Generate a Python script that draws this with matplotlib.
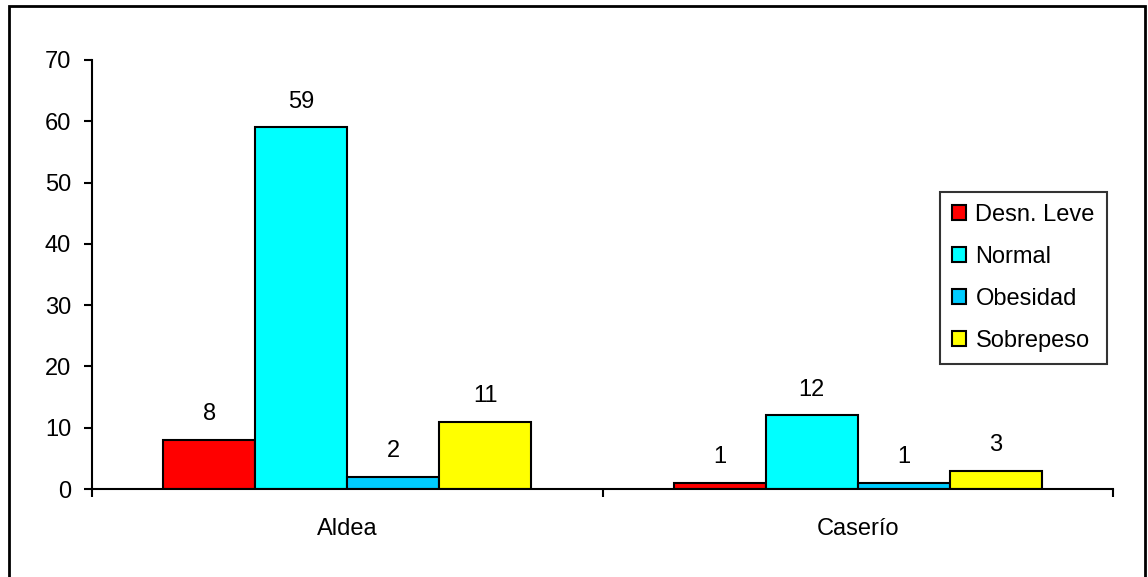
import numpy as np
import matplotlib
matplotlib.use("Agg")
import matplotlib.pyplot as plt
import matplotlib.patches as mpatches

plt.rcParams["font.family"] = ["Liberation Sans", "DejaVu Sans"]

categories = ["Aldea", "Caserío"]
series = ["Desn. Leve", "Normal", "Obesidad", "Sobrepeso"]
values = {
    "Desn. Leve": [8, 1],
    "Normal": [59, 12],
    "Obesidad": [2, 1],
    "Sobrepeso": [11, 3],
}
colors = {
    "Desn. Leve": "#FF0000",
    "Normal": "#00FFFF",
    "Obesidad": "#00CCFF",
    "Sobrepeso": "#FFFF00",
}

FS = 17

fig = plt.figure(figsize=(11.48, 5.77), dpi=100)
ax = fig.add_axes([92 / 1148, 1 - 489 / 577, (1113 - 92) / 1148, (489 - 60) / 577])

# outer frame of the chart area
frame = mpatches.Rectangle((9 / 1148, -0.05), (1145 - 9) / 1148, 1.05 - 6 / 577,
                           transform=fig.transFigure, fill=False,
                           edgecolor="black", linewidth=2, clip_on=False)
fig.patches.append(frame)

x = np.arange(len(categories))
width = 0.18
for i, name in enumerate(series):
    pos = x + (i - 1.5) * width
    ax.bar(pos, values[name], width, color=colors[name],
           edgecolor="black", linewidth=1.5, label=name)
    for px, v in zip(pos, values[name]):
        ax.text(px, v + 2.4, str(v), ha="center", va="bottom", fontsize=FS)

ax.set_xlim(-0.5, 1.5)
ax.set_ylim(0, 70)
ax.set_yticks(range(0, 71, 10))
ax.tick_params(axis="y", labelsize=FS, direction="out", length=6, width=1.5, pad=9)

# category labels centred, tick marks at category borders
ax.set_xticks([-0.5, 0.5, 1.5])
ax.set_xticklabels(["", "", ""])
ax.tick_params(axis="x", direction="out", length=6, width=1.5)
for xi, cat in zip(x, categories):
    ax.text(xi, -4.7, cat, ha="center", va="top", fontsize=FS)

for s in ["top", "right"]:
    ax.spines[s].set_visible(False)
ax.spines["left"].set_linewidth(1.5)
ax.spines["bottom"].set_linewidth(1.5)

leg = ax.legend(loc="upper left", bbox_to_anchor=((940 - 92) / 1021, 1 - (192 - 60) / 429),
                fontsize=FS, frameon=True, fancybox=False, edgecolor="black",
                handlelength=0.6, handleheight=0.6, handletextpad=0.4,
                labelspacing=0.85, borderpad=0.5, borderaxespad=0)
leg.get_frame().set_linewidth(1.5)

fig.savefig("out.png", dpi=100)
